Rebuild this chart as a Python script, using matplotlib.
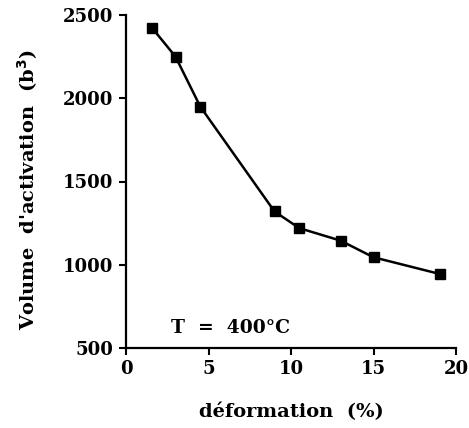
import matplotlib
matplotlib.use("Agg")
import matplotlib.pyplot as plt

# Activation volume vs. strain at 400 °C
deformation = [1.6, 3.0, 4.5, 9.0, 10.5, 13.0, 15.0, 19.0]
volume = [2420, 2250, 1950, 1320, 1220, 1145, 1045, 945]
x_ticks = [0, 5, 10, 15, 20]
y_ticks = [500, 1000, 1500, 2000, 2500]

plt.rcParams['font.family'] = ['DejaVu Serif']
plt.rcParams['font.weight'] = 'bold'

fig = plt.figure(figsize=(4.69, 4.28), dpi=100)
ax = fig.add_axes([126/469, 1 - 348/428, 330/469, 333/428])

ax.plot(deformation, volume, color='black', linewidth=1.8,
        marker='s', markersize=7.5, markerfacecolor='black',
        markeredgecolor='black')

ax.set_xlim(0, 20)
ax.set_ylim(500, 2500)
ax.set_xticks(x_ticks)
ax.set_yticks(y_ticks)
ax.tick_params(axis='both', direction='out', length=5, width=1.5,
               labelsize=13, pad=4)
for lab in ax.get_xticklabels() + ax.get_yticklabels():
    lab.set_fontweight('bold')

for side in ['top', 'right']:
    ax.spines[side].set_visible(False)
for side in ['left', 'bottom']:
    ax.spines[side].set_linewidth(1.6)

ax.set_xlabel("d\u00e9formation  (%)", fontsize=14, fontweight='bold')
ax.xaxis.set_label_coords(0.5, -0.165)
ax.set_ylabel("Volume  d'activation  (b$^{\\mathbf{3}}$)", fontsize=14,
              fontweight='bold')
ax.yaxis.set_label_coords(-0.26, 0.474)
ax.text(2.7, 620, "T  =  400\u00b0C", fontsize=13.5, fontweight='bold',
        va='center', ha='left')

fig.savefig("out.png", dpi=100)
